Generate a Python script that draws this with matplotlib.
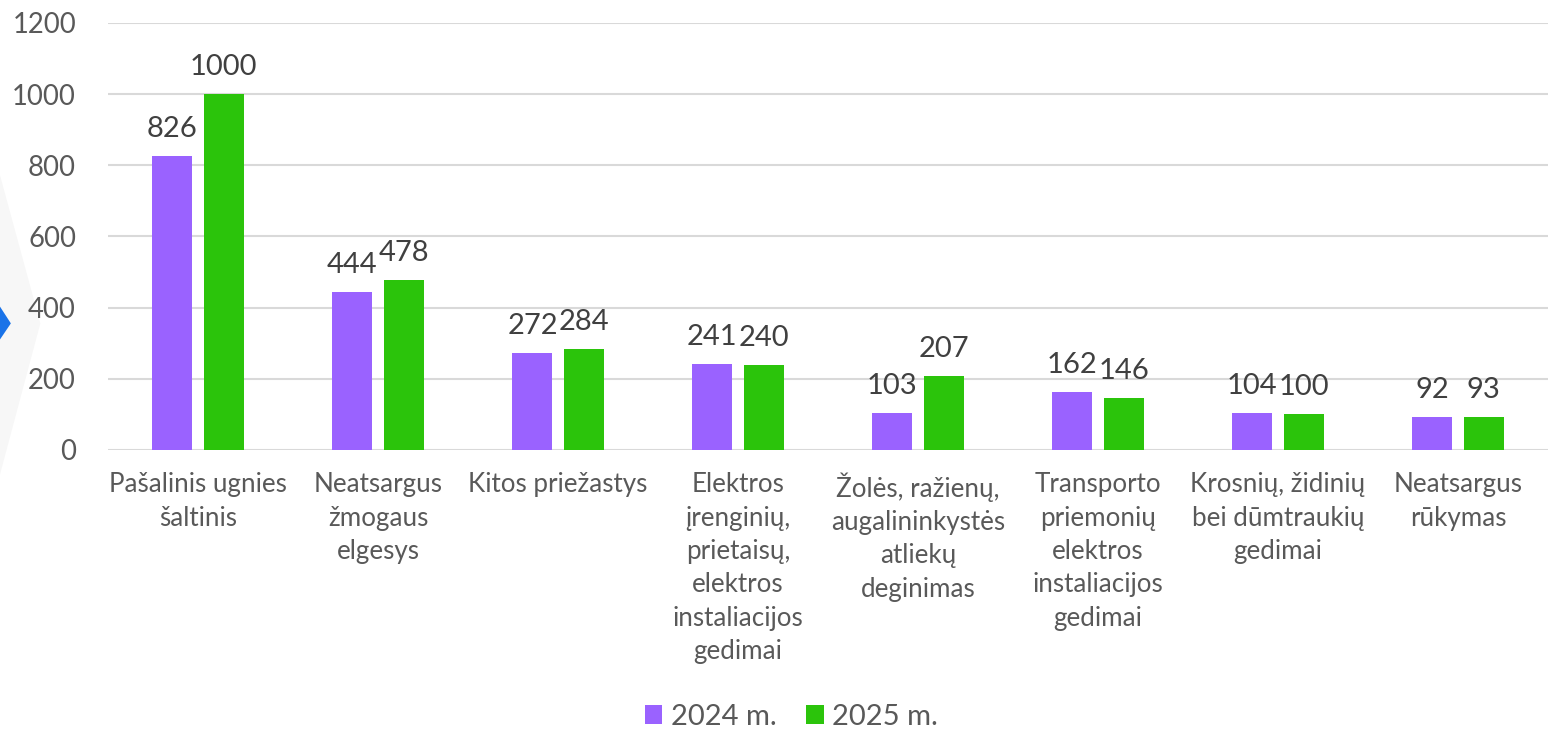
import matplotlib.pyplot as plt
import numpy as np
from matplotlib.patches import Polygon

categories = ["Pašalinis ugnies\nšaltinis", "Neatsargus\nžmogaus\nelgesys", "Kitos priežastys",
              "Elektros\nįrenginių,\nprietaisų,\nelektros\ninstaliacijos\ngedimai",
              "Žolės, ražienų,\naugalininkystės\natliekų\ndeginimas",
              "Transporto\npriemonių\nelektros\ninstaliacijos\ngedimai",
              "Krosnių, židinių\nbei dūmtraukių\ngedimai", "Neatsargus\nrūkymas"]
v2024 = [826, 444, 272, 241, 103, 162, 104, 92]
v2025 = [1000, 478, 284, 240, 207, 146, 100, 93]
yticks = [0, 200, 400, 600, 800, 1000, 1200]

plt.rcParams['font.family'] = ['Lato', 'DejaVu Sans']
purple = '#9A62FF'
green = '#2BC40B'
grey = '#595959'

fig = plt.figure(figsize=(15.52, 7.3), dpi=100)

# decorative chevron on the left edge
fig.patches.append(Polygon([(0, 0.35), (0.026, 0.557), (0, 0.76)], closed=True,
                           transform=fig.transFigure, facecolor='#f7f7f7', edgecolor='none', zorder=0))
fig.patches.append(Polygon([(0, 0.535), (0.007, 0.557), (0, 0.58)], closed=True,
                           transform=fig.transFigure, facecolor='#1a73e8', edgecolor='none', zorder=1))

ax = fig.add_axes([0.0696, 0.3836, 0.9278, 0.585])
ax.set_zorder(3)
ax.patch.set_alpha(0)

x = np.arange(len(categories))
w = 0.222
off = 0.142
b1 = ax.bar(x - off, v2024, w, color=purple, label='2024 m.', zorder=3)
b2 = ax.bar(x + off, v2025, w, color=green, label='2025 m.', zorder=3)
for bars in (b1, b2):
    ax.bar_label(bars, padding=10, fontsize=21, color='#404040')

ax.set_xlim(-0.5, len(categories) - 0.5)
ax.set_ylim(0, 1200)
ax.set_yticks(yticks)
ax.set_yticklabels([str(t) for t in yticks], fontsize=19.8, color=grey)
ax.set_xticks(x)
ax.set_xticklabels(categories, fontsize=18.7, color=grey, linespacing=1.42, va='top')
ax.tick_params(axis='both', length=0)
ax.tick_params(axis='y', pad=23)
ax.tick_params(axis='x', pad=16)
ax.grid(axis='y', color='#d9d9d9', linewidth=1.5, zorder=0)
for s in ax.spines.values():
    s.set_visible(False)

fig.legend(handles=[b1, b2], loc='center', bbox_to_anchor=(0.51, 0.018), ncol=2, frameon=False,
           fontsize=21, labelcolor=grey, handlelength=0.6, handleheight=0.6, handletextpad=0.3,
           columnspacing=1.0)

fig.savefig('out.png', dpi=100)
